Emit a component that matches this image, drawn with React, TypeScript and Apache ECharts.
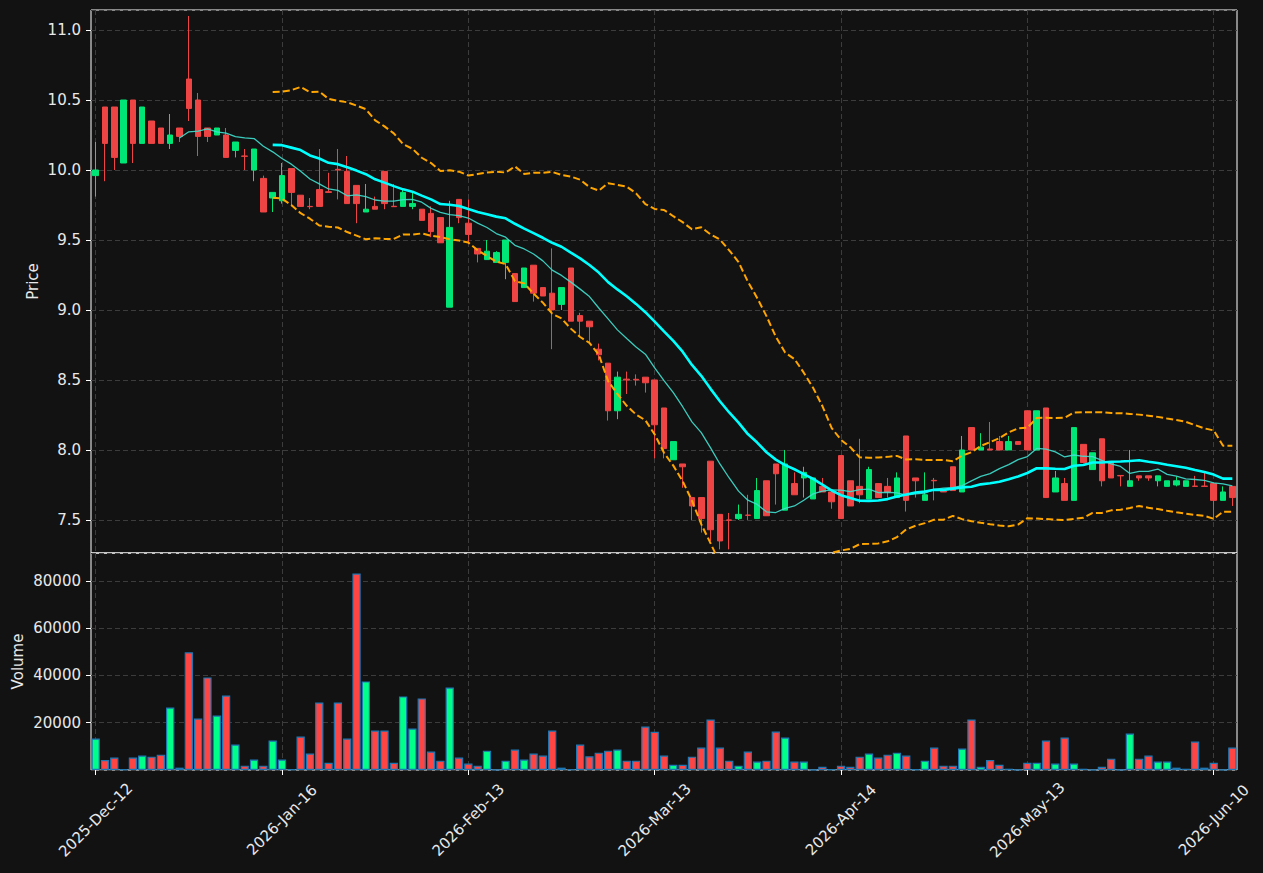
import React, { useEffect, useRef } from 'react';
import * as echarts from 'echarts';

// ---- Data ----
const opens = [
  9.96, 10.45, 10.45, 10.05, 10.50, 10.19, 10.35, 10.30, 10.19, 10.30,
  10.65, 10.50, 10.30, 10.25, 10.25, 10.14, 10.10, 10.00, 9.94, 9.80,
  9.78, 10.01, 9.82, 9.74, 9.86, 9.845, 10.005, 9.99, 9.89, 9.70,
  9.74, 9.99, 9.741, 9.74, 9.74, 9.72, 9.69, 9.66, 9.02, 9.79,
  9.62, 9.44, 9.36, 9.34, 9.34, 9.26, 9.16, 9.32, 9.16, 9.12,
  9.04, 9.30, 8.96, 8.92, 8.72, 8.62, 8.28, 8.506, 8.505, 8.52,
  8.50, 8.30, 7.93, 7.90, 7.66, 7.66, 7.92, 7.54, 7.50, 7.51,
  7.535, 7.51, 7.78, 7.90, 7.57, 7.76, 7.80, 7.65, 7.74, 7.70,
  7.96, 7.78, 7.74, 7.65, 7.76, 7.74, 7.66, 8.10, 7.80, 7.64,
  7.783, 7.705, 7.88, 7.70, 8.16, 8.00, 8.007, 8.06, 8.00, 8.06,
  8.28, 8.00, 8.30, 7.70, 7.76, 7.64, 8.04, 7.86, 8.08, 7.91,
  7.818, 7.74, 7.815, 7.815, 7.78, 7.74, 7.75, 7.74, 7.742, 7.742,
  7.76, 7.64, 7.74,
];
const closes = [
  10.00, 10.19, 10.09, 10.50, 10.19, 10.45, 10.19, 10.19, 10.25, 10.24,
  10.44, 10.24, 10.24, 10.30, 10.09, 10.20, 10.098, 10.15, 9.70, 9.84,
  9.96, 9.84, 9.74, 9.738, 9.74, 9.84, 10.00, 9.76, 9.76, 9.72,
  9.72, 9.76, 9.738, 9.84, 9.76, 9.64, 9.56, 9.48, 9.59, 9.66,
  9.54, 9.40, 9.42, 9.41, 9.50, 9.06, 9.30, 9.12, 9.10, 9.00,
  9.16, 8.92, 8.92, 8.88, 8.68, 8.28, 8.52, 8.50, 8.50, 8.48,
  8.18, 8.01, 8.06, 7.88, 7.60, 7.51, 7.43, 7.35, 7.498, 7.54,
  7.533, 7.71, 7.53, 7.83, 7.90, 7.68, 7.84, 7.80, 7.70, 7.63,
  7.51, 7.60, 7.68, 7.86, 7.66, 7.70, 7.80, 7.64, 7.78, 7.68,
  7.78, 7.70, 7.71, 8.00, 8.00, 8.02, 8.00, 8.00, 8.06, 8.04,
  8.00, 8.28, 7.66, 7.80, 7.64, 8.16, 7.91, 7.98, 7.78, 7.80,
  7.815, 7.78, 7.80, 7.80, 7.815, 7.78, 7.78, 7.78, 7.74, 7.74,
  7.64, 7.70, 7.66,
];
const lows = [
  9.81, 9.92, 10.00, 10.05, 10.05, 10.19, 10.19, 10.19, 10.15, 10.20,
  10.35, 10.10, 10.20, 10.25, 10.09, 10.09, 10.00, 9.92, 9.70, 9.70,
  9.76, 9.74, 9.74, 9.72, 9.74, 9.84, 9.79, 9.76, 9.62, 9.70,
  9.72, 9.72, 9.738, 9.74, 9.72, 9.64, 9.52, 9.48, 9.02, 9.62,
  9.47, 9.34, 9.36, 9.34, 9.22, 9.06, 9.16, 9.06, 9.10, 8.72,
  9.00, 8.92, 8.81, 8.76, 8.64, 8.21, 8.22, 8.40, 8.46, 8.41,
  7.94, 7.94, 7.93, 7.73, 7.50, 7.41, 7.35, 7.29, 7.29, 7.50,
  7.50, 7.51, 7.53, 7.61, 7.57, 7.68, 7.66, 7.65, 7.70, 7.58,
  7.51, 7.60, 7.62, 7.65, 7.66, 7.66, 7.66, 7.56, 7.66, 7.64,
  7.64, 7.70, 7.71, 7.70, 8.00, 8.00, 8.00, 8.00, 8.00, 8.04,
  8.00, 8.00, 7.66, 7.70, 7.64, 7.64, 7.91, 7.86, 7.74, 7.80,
  7.74, 7.74, 7.78, 7.78, 7.74, 7.74, 7.74, 7.74, 7.74, 7.74,
  7.50, 7.64, 7.60,
];
const highs = [
  10.20, 10.45, 10.45, 10.50, 10.50, 10.45, 10.35, 10.30, 10.40, 10.30,
  11.10, 10.55, 10.30, 10.30, 10.30, 10.20, 10.15, 10.15, 9.96, 9.84,
  10.05, 10.01, 9.82, 9.80, 10.15, 9.98, 10.15, 10.10, 9.89, 9.90,
  9.81, 9.99, 9.90, 9.86, 9.84, 9.72, 9.74, 9.66, 9.78, 9.79,
  9.79, 9.44, 9.50, 9.42, 9.50, 9.26, 9.30, 9.32, 9.16, 9.44,
  9.16, 9.30, 8.98, 8.92, 8.76, 8.62, 8.56, 8.56, 8.54, 8.52,
  8.50, 8.30, 8.06, 7.90, 7.66, 7.66, 7.92, 7.54, 7.55, 7.61,
  7.68, 7.80, 7.78, 7.90, 8.00, 7.84, 7.88, 7.80, 7.80, 7.70,
  7.96, 7.78, 8.08, 7.88, 7.76, 7.80, 7.84, 8.10, 7.80, 7.84,
  7.80, 7.71, 7.88, 8.10, 8.16, 8.12, 8.20, 8.10, 8.10, 8.06,
  8.28, 8.28, 8.30, 7.85, 7.80, 8.16, 8.04, 7.98, 8.08, 7.91,
  7.818, 8.00, 7.815, 7.815, 7.815, 7.78, 7.81, 7.78, 7.815, 7.835,
  7.76, 7.74, 7.74,
];
const volumes = [
  13300, 4250, 5250, 400, 5250, 6100, 5650, 6500, 26450, 1000,
  49800, 21800, 39200, 23050, 31550, 10750, 1850, 4400, 1850, 12450,
  4400, 300, 14150, 6950, 28600, 3100, 28600, 13300, 83200, 37500,
  16700, 16700, 3100, 31150, 17550, 30300, 7800, 3950, 34950, 5250,
  2700, 1850, 8200, 100, 3950, 8650, 4400, 6950, 6100, 16700,
  1000, 300, 10750, 5800, 7350, 8200, 8650, 3950, 3950, 18400,
  16150, 6100, 2250, 2250, 5650, 9500, 21400, 9500, 3950, 1850,
  7800, 3550, 3950, 16250, 13750, 3550, 3550, 100, 1400, 300,
  1850, 1400, 5650, 6950, 5250, 6500, 7350, 6100, 300, 3950,
  9500, 1850, 1850, 9050, 21400, 1400, 4250, 2250, 550, 100,
  3100, 3100, 12450, 2700, 13750, 2700, 550, 100, 1400, 4800,
  100, 15400, 4800, 6100, 3550, 3550, 1000, 550, 12050, 1000,
  3100, 100, 9500,
];

// Trading calendar: weekdays from the first date, minus exchange holidays
const firstDate = '2025-12-12';
const holidays = [
  '2025-12-24', '2025-12-25', '2025-12-26', '2025-12-31', '2026-01-01',
  '2026-04-03', '2026-04-06', '2026-05-01',
];
const monthNames = ['Jan', 'Feb', 'Mar', 'Apr', 'May', 'Jun', 'Jul', 'Aug', 'Sep', 'Oct', 'Nov', 'Dec'];

function iso(d: Date) {
  const m = String(d.getUTCMonth() + 1).padStart(2, '0');
  const day = String(d.getUTCDate()).padStart(2, '0');
  return `${d.getUTCFullYear()}-${m}-${day}`;
}
function buildDates(n: number): string[] {
  const out: string[] = [];
  const d = new Date(firstDate + 'T00:00:00Z');
  while (out.length < n) {
    const wd = d.getUTCDay();
    const s = iso(d);
    if (wd !== 0 && wd !== 6 && !holidays.includes(s)) {
      out.push(`${d.getUTCFullYear()}-${monthNames[d.getUTCMonth()]}-${String(d.getUTCDate()).padStart(2, '0')}`);
    }
    d.setUTCDate(d.getUTCDate() + 1);
  }
  return out;
}

function sma(vals: number[], w: number): (number | null)[] {
  return vals.map((_, i) => {
    if (i < w - 1) return null;
    let s = 0;
    for (let j = i - w + 1; j <= i; j++) s += vals[j];
    return s / w;
  });
}
function bands(vals: number[], w: number, k: number) {
  const up: (number | null)[] = [];
  const lo: (number | null)[] = [];
  vals.forEach((_, i) => {
    if (i < w - 1) { up.push(null); lo.push(null); return; }
    const sl = vals.slice(i - w + 1, i + 1);
    const m = sl.reduce((a, b) => a + b, 0) / w;
    const v = sl.reduce((a, b) => a + (b - m) * (b - m), 0) / (w - 1);
    const sd = Math.sqrt(v);
    up.push(m + k * sd);
    lo.push(m - k * sd);
  });
  return { up, lo };
}

const UP = '#00e676';
const DOWN = '#ef4444';
const VOL_UP = '#00ff88';
const VOL_DOWN = '#ff4444';
const TEXT = '#e8e8e8';
const GRIDLINE = '#3c3c3c';
const FONT = 'DejaVu Sans';
const FS = 15;

export default function App() {
  const ref = useRef<HTMLDivElement>(null);
  useEffect(() => {
    if (!ref.current) return;
    const chart = echarts.init(ref.current, undefined, { renderer: 'svg' });
    const dates = buildDates(closes.length);
    const candles = opens.map((o, i) => [o, closes[i], lows[i], highs[i]]);
    const ma10 = sma(closes, 10);
    const ma20 = sma(closes, 20);
    const bb = bands(closes, 20, 2);
    const vol = volumes.map((v, i) => ({
      value: v,
      itemStyle: { color: closes[i] >= opens[i] ? VOL_UP : VOL_DOWN },
    }));

    const splitLine = {
      show: true,
      interval: 19,
      alignWithLabel: true,
      lineStyle: { color: GRIDLINE, type: [5, 3] as any, width: 1 },
    } as any;
    const ySplit = { show: true, lineStyle: { color: GRIDLINE, type: [5, 3] as any, width: 1 } };

    chart.setOption({
      animation: false,
      backgroundColor: '#121212',
      textStyle: { fontFamily: FONT },
      grid: [
        { left: 91, right: 26, top: 10, height: 543, show: true, borderColor: '#ffffff', borderWidth: 1, backgroundColor: 'transparent' },
        { left: 91, right: 26, top: 553, height: 217, show: true, borderColor: '#ffffff', borderWidth: 1, backgroundColor: 'transparent' },
      ],
      xAxis: [
        {
          type: 'category', gridIndex: 0, data: dates, boundaryGap: true,
          axisLine: { show: false }, axisTick: { show: false }, axisLabel: { show: false },
          splitLine,
        },
        {
          type: 'category', gridIndex: 1, data: dates, boundaryGap: true,
          axisLine: { show: false },
          axisTick: { show: true, interval: 19, alignWithLabel: true, length: 5, lineStyle: { color: '#ffffff' } },
          axisLabel: {
            show: true, interval: 19, rotate: 45, align: 'center', verticalAlign: 'middle',
            margin: 50, color: TEXT, fontSize: FS, fontFamily: FONT,
          },
          splitLine,
        },
      ],
      yAxis: [
        {
          type: 'value', gridIndex: 0, min: 7.264, max: 11.143, splitNumber: 8,
          name: 'Price', nameLocation: 'middle', nameGap: 51, nameRotate: 90, nameMoveOverlap: false,
          nameTextStyle: { color: TEXT, fontSize: FS, fontFamily: FONT },
          axisLine: { show: false },
          axisTick: { show: true, length: 5, lineStyle: { color: '#ffffff' } },
          axisLabel: {
            color: TEXT, fontSize: FS, margin: 10, fontFamily: FONT,
            showMinLabel: false, showMaxLabel: false,
            formatter: (v: number) => (Math.abs(v * 2 - Math.round(v * 2)) < 1e-6 ? v.toFixed(1) : ''),
          },
          splitLine: ySplit,
        },
        {
          type: 'value', gridIndex: 1, min: 0, max: 91850, splitNumber: 4,
          name: 'Volume', nameLocation: 'middle', nameGap: 66, nameRotate: 90, nameMoveOverlap: false,
          nameTextStyle: { color: TEXT, fontSize: FS, fontFamily: FONT },
          axisLine: { show: false },
          axisTick: { show: true, length: 5, lineStyle: { color: '#ffffff' } },
          axisLabel: {
            color: TEXT, fontSize: FS, margin: 10, fontFamily: FONT,
            showMinLabel: false, showMaxLabel: false,
            formatter: (v: number) => (v > 0 && v % 20000 === 0 ? String(v) : ''),
          },
          splitLine: ySplit,
        },
      ],
      series: [
        {
          type: 'candlestick', xAxisIndex: 0, yAxisIndex: 0, data: candles, barWidth: 6,
          itemStyle: { color: UP, color0: DOWN, borderColor: UP, borderColor0: DOWN, borderWidth: 1 },
        },
        {
          type: 'line', xAxisIndex: 0, yAxisIndex: 0, data: ma10, showSymbol: false, symbol: 'none',
          lineStyle: { color: '#40e0d0', width: 1.3, opacity: 0.9 },
        },
        {
          type: 'line', xAxisIndex: 0, yAxisIndex: 0, data: ma20, showSymbol: false, symbol: 'none',
          lineStyle: { color: '#00ffff', width: 2.6 },
        },
        {
          type: 'line', xAxisIndex: 0, yAxisIndex: 0, data: bb.up, showSymbol: false, symbol: 'none',
          lineStyle: { color: '#ffa500', width: 2, type: [7, 3.2] },
        },
        {
          type: 'line', xAxisIndex: 0, yAxisIndex: 0, data: bb.lo, showSymbol: false, symbol: 'none',
          lineStyle: { color: '#ffa500', width: 2, type: [7, 3.2] },
        },
        {
          type: 'bar', xAxisIndex: 1, yAxisIndex: 1, data: vol, barWidth: 8.3,
          itemStyle: { borderColor: '#1f77b4', borderWidth: 1.2 },
        },
      ],
    });
    return () => chart.dispose();
  }, []);

  return (
    <div
      ref={ref}
      style={{ position: 'fixed', left: 0, top: 0, width: '1263px', height: '873px', background: '#121212' }}
    />
  );
}
